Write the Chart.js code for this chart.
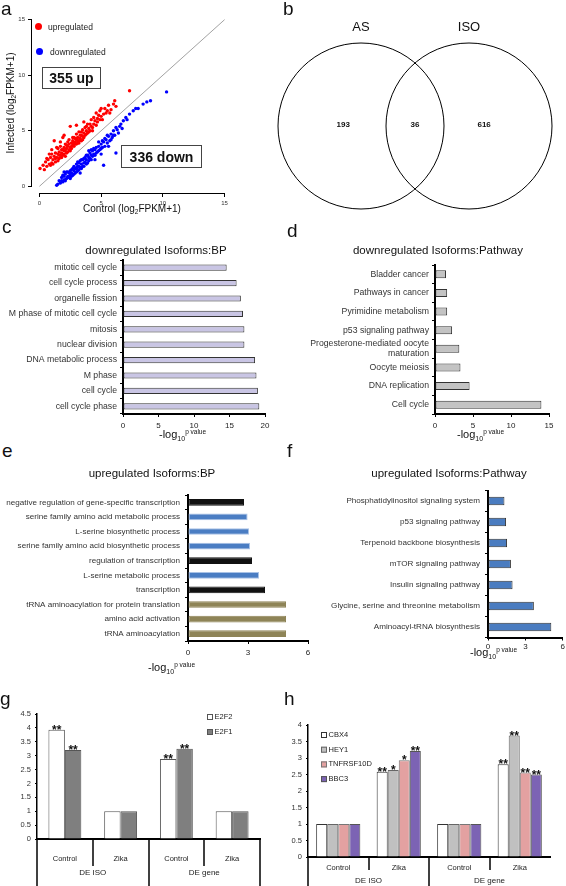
<!DOCTYPE html>
<html>
<head>
<meta charset="utf-8">
<script src="https://cdn.jsdelivr.net/npm/chart.js@4.4.0/dist/chart.umd.min.js"></script>
<style>
body { margin: 0; width: 566px; height: 886px; position: relative; overflow: hidden; background: #fff;
       font-family: "Liberation Sans", Arial, sans-serif; color: #111; }
canvas { position: absolute; }
.t { position: absolute; white-space: nowrap; line-height: 1; }
.letter { font-size: 19px; }
.ttl { font-size: 11.5px; transform: translate(-50%, -50%); }
.lg { font-size: 11px; }
.lg sub { font-size: 7px; vertical-align: -3px; }
.lg sup { font-size: 6.5px; vertical-align: 4px; }
.atl { font-size: 10px; transform: translate(-50%, -50%); }
.atl sub { font-size: 6.5px; vertical-align: -2px; }
.box { position: absolute; border: 1.5px solid #444; font-weight: bold; font-size: 14px;
       display: flex; align-items: center; justify-content: center; box-sizing: border-box; }
.dot { position: absolute; width: 7px; height: 7px; border-radius: 50%; }
.leg { font-size: 8.5px; transform: translateY(-50%); color: #222; }
</style>
</head>
<body>
<canvas id="scatter" width="280" height="222" style="left:0;top:0"></canvas>
<canvas id="venn" width="290" height="240" style="left:276px;top:0"></canvas>
<canvas id="bpDown" width="283" height="190" style="left:0;top:250px"></canvas>
<canvas id="pathDown" width="283" height="190" style="left:283px;top:250px"></canvas>
<canvas id="bpUp" width="320" height="185" style="left:0;top:480px"></canvas>
<canvas id="pathUp" width="283" height="185" style="left:283px;top:480px"></canvas>
<canvas id="gBar" width="283" height="196" style="left:0;top:690px"></canvas>
<canvas id="hBar" width="283" height="196" style="left:283px;top:690px"></canvas>

<div class="t letter" style="left:1px;top:-1px">a</div>
<div class="t letter" style="left:283px;top:-1px">b</div>
<div class="t letter" style="left:2px;top:217px">c</div>
<div class="t letter" style="left:287px;top:221px">d</div>
<div class="t letter" style="left:2px;top:441px">e</div>
<div class="t letter" style="left:287px;top:441px">f</div>
<div class="t letter" style="left:0;top:689px">g</div>
<div class="t letter" style="left:284px;top:689px">h</div>

<div class="t atl" style="left:12px;top:103px;transform:translate(-50%,-50%) rotate(-90deg)">Infected (log<sub>2</sub>FPKM+1)</div>
<div class="t atl" style="left:132px;top:210px">Control (log<sub>2</sub>FPKM+1)</div>
<div class="dot" style="left:35px;top:23px;background:#ff0000"></div>
<div class="t leg" style="left:48px;top:27px">upregulated</div>
<div class="dot" style="left:36px;top:48px;background:#0000ff"></div>
<div class="t leg" style="left:50px;top:52px">downregulated</div>
<div class="box" style="left:42px;top:67px;width:59px;height:22px">355 up</div>
<div class="box" style="left:121px;top:145px;width:81px;height:23px">336 down</div>

<div class="t ttl" style="left:156px;top:251px">downregulated Isoforms:BP</div>
<div class="t ttl" style="left:438px;top:251px">downregulated Isoforms:Pathway</div>
<div class="t ttl" style="left:152px;top:474px">upregulated Isoforms:BP</div>
<div class="t ttl" style="left:449px;top:474px">upregulated Isoforms:Pathway</div>

<div class="t lg" style="left:159px;top:429px">-log<sub>10</sub><sup>p value</sup></div>
<div class="t lg" style="left:457px;top:429px">-log<sub>10</sub><sup>p value</sup></div>
<div class="t lg" style="left:148px;top:662px">-log<sub>10</sub><sup>p value</sup></div>
<div class="t lg" style="left:470px;top:647px">-log<sub>10</sub><sup>p value</sup></div>

<script>
// panel a: log2(FPKM+1), control vs infected
const upregulated = [
  [0.05,1.6],[0.3,1.9],[0.4,1.5],[0.5,2.2],[0.6,1.8],[0.7,2.4],[0.8,2.0],[0.9,2.6],[1.0,2.1],[1.0,2.9],
  [1.1,2.4],[1.2,2.7],[1.2,4.1],[1.3,2.2],[1.3,3.0],[1.4,2.6],[1.5,2.9],[1.5,3.4],[1.6,2.5],[1.6,3.1],
  [1.7,2.8],[1.7,3.6],[1.8,3.0],[1.8,2.6],[1.9,3.3],[1.9,4.4],[2.0,2.9],[2.0,3.5],[2.1,3.2],[2.1,3.8],
  [2.2,3.0],[2.2,3.4],[2.3,3.6],[2.3,4.0],[2.4,3.3],[2.4,3.8],[2.5,3.5],[2.5,5.4],[2.6,3.9],[2.6,3.4],
  [2.7,4.1],[2.7,3.7],[2.8,3.6],[2.8,4.4],[2.9,4.0],[2.9,3.8],[3.0,4.2],[3.0,4.7],[3.1,3.9],[3.1,4.4],
  [3.2,4.1],[3.2,4.9],[3.3,4.3],[3.4,4.6],[3.4,4.1],[3.5,4.5],[3.5,5.1],[3.6,4.8],[3.7,4.6],[3.7,5.3],
  [3.8,5.0],[3.9,4.8],[3.9,5.6],[4.0,5.2],[4.1,5.0],[4.2,5.4],[4.2,6.0],[4.3,5.3],[4.4,5.6],[4.5,5.9],
  [4.6,5.5],[4.7,6.1],[4.8,6.4],[4.9,6.0],[5.0,6.3],[5.2,6.5],[5.3,7.0],[5.5,6.8],[5.6,7.3],[5.8,6.9],
  [6.0,7.4],[6.2,7.2],[7.3,8.6],[2.0,4.6],[1.4,3.5],[0.8,2.9],[3.6,5.8],[4.6,6.6],[5.0,7.0],
  [0.6,2.5],[0.9,1.9],[1.1,2.0],[1.3,2.5],[1.5,2.3],[1.6,2.8],[1.8,3.3],[1.9,2.8],[2.0,3.2],[2.1,2.7],
  [2.2,3.7],[2.3,3.1],[2.4,4.2],[2.5,3.2],[2.6,3.6],[2.7,4.4],[2.8,3.9],[2.9,4.3],[3.0,3.8],[3.1,4.1],
  [3.2,3.9],[3.3,4.6],[3.4,4.9],[3.5,4.2],[3.6,4.4],[3.8,4.7],[3.8,5.4],[4.0,4.9],[4.1,5.6],[4.3,5.0],
  [4.4,6.2],[4.7,5.8],[4.9,6.8],[5.1,6.0],[5.4,6.6],[5.7,6.6],[6.1,7.7],[1.0,3.3],[1.7,4.0],[3.0,5.5]
];
const downregulated = [
  [1.4,0.1],[1.6,0.5],[1.7,0.3],[1.8,0.8],[1.9,0.4],[2.0,0.9],[2.0,0.6],[2.1,1.1],[2.2,0.7],[2.2,1.3],
  [2.3,0.9],[2.4,1.2],[2.4,0.8],[2.5,1.4],[2.5,1.0],[2.6,1.2],[2.7,1.6],[2.7,1.0],[2.8,1.4],[2.8,1.8],
  [2.9,1.2],[3.0,1.6],[3.0,2.0],[3.1,1.4],[3.1,1.8],[3.2,2.1],[3.3,1.7],[3.3,2.3],[3.4,2.0],[3.5,1.8],
  [3.5,2.4],[3.6,2.1],[3.7,2.6],[3.7,2.2],[3.8,2.4],[3.9,2.8],[3.9,2.1],[4.0,2.6],[4.1,3.0],[4.1,2.5],
  [4.2,2.8],[4.3,3.2],[4.4,2.9],[4.5,3.3],[4.5,2.8],[4.6,3.5],[4.7,3.1],[4.8,3.6],[4.9,3.3],[5.0,3.8],
  [5.1,3.5],[5.2,1.9],[5.2,4.0],[5.3,3.6],[5.4,4.2],[5.5,3.9],[5.6,4.5],[5.7,4.1],[5.8,4.7],[5.9,4.4],
  [6.0,5.0],[6.1,4.6],[6.2,3.0],[6.3,5.1],[6.4,4.8],[6.5,5.4],[6.6,5.6],[6.8,5.9],[7.0,6.2],[7.3,6.5],
  [7.6,6.8],[8.0,7.0],[8.4,7.4],[9.0,7.7],[10.3,8.5],[3.2,1.5],[2.6,1.5],[4.0,3.2],[5.0,2.9],[5.6,3.6],
  [1.5,0.2],[1.8,0.5],[1.9,1.0],[2.1,0.5],[2.3,1.3],[2.5,0.7],[2.6,0.9],[2.8,1.1],[2.9,1.6],[3.0,1.3],
  [3.1,2.2],[3.2,1.8],[3.4,1.6],[3.4,2.4],[3.6,1.8],[3.6,2.5],[3.8,2.0],[3.8,2.8],[4.0,2.3],[4.2,2.4],
  [4.2,3.3],[4.3,2.7],[4.4,3.4],[4.6,3.0],[4.8,3.2],[4.8,4.0],[5.0,3.4],[5.1,4.1],[5.3,4.3],[5.5,4.6],
  [5.8,4.2],[6.0,4.6],[6.2,5.3],[6.7,5.2],[7.1,6.0],[2.0,1.3],[3.3,1.2],[4.5,2.4],[7.8,7.0],[8.7,7.6]
];
const aTicks = [0, 5, 10, 15];

// panel b
const vennSets = ['AS', 'ISO'];
const vennCounts = [193, 36, 616];

// panels c-f: enrichment, -log10 p
const bpDownTerms = ['mitotic cell cycle', 'cell cycle process', 'organelle fission', 'M phase of mitotic cell cycle',
  'mitosis', 'nuclear division', 'DNA metabolic process', 'M phase', 'cell cycle', 'cell cycle phase'];
const bpDownValues = [14.6, 16.0, 16.6, 16.9, 17.1, 17.1, 18.6, 18.8, 19.0, 19.2];

const pathDownTerms = ['Bladder cancer', 'Pathways in cancer', 'Pyrimidine metabolism', 'p53 signaling pathway',
  ['Progesterone-mediated oocyte', 'maturation'], 'Oocyte meiosis', 'DNA replication', 'Cell cycle'];
const pathDownValues = [1.45, 1.6, 1.6, 2.25, 3.2, 3.35, 4.55, 14.0];

const bpUpTerms = ['negative regulation of gene-specific transcription', 'serine family amino acid metabolic process',
  'L-serine biosynthetic process', 'serine family amino acid biosynthetic process', 'regulation of transcription',
  'L-serine metabolic process', 'transcription', 'tRNA aminoacylation for protein translation',
  'amino acid activation', 'tRNA aminoacylation'];
const bpUpValues = [2.8, 2.98, 3.05, 3.1, 3.2, 3.55, 3.85, 4.9, 4.9, 4.9];
const bpUpKind = ['transcription', 'serine', 'serine', 'serine', 'transcription', 'serine', 'transcription',
  'tRNA', 'tRNA', 'tRNA'];

const pathUpTerms = ['Phosphatidylinositol signaling system', 'p53 signaling pathway', 'Terpenoid backbone biosynthesis',
  'mTOR signaling pathway', 'Insulin signaling pathway', 'Glycine, serine and threonine metabolism',
  'Aminoacyl-tRNA biosynthesis'];
const pathUpValues = [1.32, 1.45, 1.53, 1.84, 1.97, 3.68, 5.08];

// panels g-h: fold change
const barCategories = ['Control', 'Zika', 'Control', 'Zika'];
const barGroups = ['DE ISO', 'DE gene'];
const e2f2 = [3.93, 1, 2.88, 1];
const e2f1 = [3.2, 1, 3.25, 1];
const e2f2Stars = ['**', '', '**', ''];
const e2f1Stars = ['**', '', '**', ''];
const cbx4 = [1, 2.58, 1, 2.81];
const hey1 = [1, 2.64, 1, 3.68];
const tnfrsf10d = [1, 2.93, 1, 2.56];
const bbc3 = [1, 3.21, 1, 2.5];
const cbx4Stars = ['', '**', '', '**'];
const hey1Stars = ['', '*', '', '**'];
const tnfrsf10dStars = ['', '*', '', '**'];
const bbc3Stars = ['', '**', '', '**'];

const FONT = '"Liberation Sans", Arial, sans-serif';
Chart.defaults.font.family = FONT;
Chart.defaults.color = '#222';
Chart.defaults.animation = false;
Chart.defaults.responsive = false;
Chart.defaults.events = [];
Chart.defaults.layout.autoPadding = false;
Chart.defaults.plugins.legend.display = false;
Chart.defaults.plugins.tooltip.enabled = false;

// ---- a: scatter ----
const rAxes = {
  id: 'rAxes',
  afterDraw(chart) {
    const { ctx, scales: { x, y }, chartArea: a } = chart;
    const lo = aTicks[0], hi = aTicks[aTicks.length - 1];
    ctx.save();
    ctx.strokeStyle = '#000';
    ctx.lineWidth = 1;
    ctx.beginPath();
    ctx.moveTo(x.getPixelForValue(lo), a.bottom + 0.5);
    ctx.lineTo(x.getPixelForValue(hi), a.bottom + 0.5);
    ctx.moveTo(a.left - 0.5, y.getPixelForValue(lo));
    ctx.lineTo(a.left - 0.5, y.getPixelForValue(hi));
    ctx.stroke();
    ctx.restore();
  }
};

new Chart(document.getElementById('scatter'), {
  type: 'scatter',
  data: {
    datasets: [
      { type: 'line', data: [{ x: 0, y: 0 }, { x: 15, y: 15 }], borderColor: '#8a8a8a', borderWidth: 0.8,
        pointRadius: 0, order: 3 },
      { data: upregulated.map(p => ({ x: p[0], y: p[1] })), pointBackgroundColor: '#ff0000',
        pointRadius: 1.7, pointBorderWidth: 0, order: 1 },
      { data: downregulated.map(p => ({ x: p[0], y: p[1] })), pointBackgroundColor: '#0000ff',
        pointRadius: 1.7, pointBorderWidth: 0, order: 2 }
    ]
  },
  options: {
    layout: { padding: { left: 0, top: 13, right: 48, bottom: 0 } },
    scales: {
      x: {
        type: 'linear', min: -0.6, max: 15.6,
        afterBuildTicks: s => { s.ticks = aTicks.map(v => ({ value: v })); },
        ticks: { font: { size: 6 }, color: '#333', padding: 3, maxRotation: 0 },
        grid: { drawOnChartArea: false, tickLength: 4, color: '#000' },
        border: { display: false },
        afterFit: s => { s.height = 29; }
      },
      y: {
        min: -0.6, max: 15.6,
        afterBuildTicks: s => { s.ticks = aTicks.map(v => ({ value: v })); },
        ticks: { font: { size: 6 }, color: '#333', padding: 3 },
        grid: { drawOnChartArea: false, tickLength: 4, color: '#000' },
        border: { display: false },
        afterFit: s => { s.width = 32; }
      }
    }
  },
  plugins: [rAxes]
});

// ---- b: venn ----
const vennText = {
  id: 'vennText',
  afterDraw(chart) {
    const { ctx, scales: { x, y } } = chart;
    ctx.save();
    ctx.fillStyle = '#111';
    ctx.textAlign = 'center';
    ctx.textBaseline = 'middle';
    ctx.font = '13px ' + FONT;
    vennSets.forEach((s, i) => ctx.fillText(s, x.getPixelForValue(i === 0 ? -1 : 1), y.getPixelForValue(1.83)));
    ctx.font = 'bold 8px ' + FONT;
    const cx = [-1.33, 0, 1.28];
    vennCounts.forEach((c, i) => ctx.fillText(String(c), x.getPixelForValue(cx[i]), y.getPixelForValue(0.02)));
    ctx.restore();
  }
};

new Chart(document.getElementById('venn'), {
  type: 'bubble',
  data: {
    datasets: [{
      data: vennSets.map((s, i) => ({ x: i === 0 ? -1 : 1, y: 0, r: 83 })),
      backgroundColor: 'rgba(0,0,0,0)', borderColor: '#000', borderWidth: 1, clip: false
    }]
  },
  options: {
    layout: { padding: { left: 9.4, right: 21.4, top: 18, bottom: 6 } },
    scales: { x: { display: false, min: -2.4, max: 2.4 }, y: { display: false, min: -2, max: 2 } }
  },
  plugins: [vennText]
});

// ---- c-f: horizontal enrichment bars ----
function hbar(id, terms, values, fill, border, xMax, xStep, area, thick) {
  new Chart(document.getElementById(id), {
    type: 'bar',
    data: {
      labels: terms,
      datasets: [{ data: values, backgroundColor: fill, borderColor: border, borderWidth: 1,
        borderSkipped: false, barPercentage: thick, categoryPercentage: 1 }]
    },
    options: {
      indexAxis: 'y',
      layout: { padding: { left: 0, top: area.top, right: area.right, bottom: 0 } },
      scales: {
        x: {
          min: 0, max: xMax,
          ticks: { stepSize: xStep, font: { size: 8 }, color: '#222', padding: area.tickPad },
          grid: { drawOnChartArea: false, tickLength: 3, color: '#000' },
          border: { color: '#000', width: 2 },
          afterFit: s => { s.height = area.xh; }
        },
        y: {
          ticks: { font: { size: area.labelSize }, color: '#333', padding: area.labelPad, autoSkip: false },
          grid: { offset: true, drawOnChartArea: false, tickLength: 3, color: '#000' },
          border: { color: '#000', width: 2 },
          afterFit: s => { s.width = area.left; }
        }
      }
    }
  });
}

hbar('bpDown', bpDownTerms, bpDownValues, '#c9c5e4', '#333', 20, 5,
  { left: 123, top: 10, right: 18, xh: 26, tickPad: 4, labelSize: 8.7, labelPad: 3 }, 0.4);
hbar('pathDown', pathDownTerms, pathDownValues, '#c3c3c3', '#333', 15, 5,
  { left: 152, top: 15, right: 17, xh: 26, tickPad: 4, labelSize: 8.7, labelPad: 3 }, 0.43);

const kindFill = { transcription: '#111111', serine: '#4a7dc3', tRNA: '#8e8457' };
const kindBorder = { transcription: '#111111', serine: '#a9c2e6', tRNA: '#8e8457' };
hbar('bpUp', bpUpTerms, bpUpValues, bpUpKind.map(k => kindFill[k]), bpUpKind.map(k => kindBorder[k]), 6, 3,
  { left: 188, top: 15, right: 12, xh: 24, tickPad: 4, labelSize: 8.1, labelPad: 5 }, 0.46);
hbar('pathUp', pathUpTerms, pathUpValues, '#4a7cc0', '#333', 6, 3,
  { left: 205, top: 10.5, right: 2, xh: 27.5, tickPad: 1, labelSize: 8.1, labelPad: 5 }, 0.4);

// ---- g-h: grouped bars ----
const stars = {
  id: 'stars',
  afterDatasetsDraw(chart) {
    const ctx = chart.ctx;
    ctx.save();
    ctx.fillStyle = '#111';
    ctx.font = 'bold 12px ' + FONT;
    ctx.textAlign = 'center';
    ctx.textBaseline = 'alphabetic';
    chart.data.datasets.forEach((ds, i) => {
      chart.getDatasetMeta(i).data.forEach((bar, j) => {
        if (ds.stars[j]) ctx.fillText(ds.stars[j], bar.x, bar.y + 4);
      });
    });
    ctx.restore();
  }
};

function boxLegend(x, y0, dy) {
  return {
    id: 'boxLegend',
    afterDraw(chart) {
      const ctx = chart.ctx;
      ctx.save();
      ctx.font = '7.5px ' + FONT;
      ctx.textBaseline = 'middle';
      chart.data.datasets.forEach((ds, i) => {
        const y = y0 + i * dy;
        ctx.fillStyle = ds.backgroundColor;
        ctx.fillRect(x, y - 3, 6, 6);
        ctx.strokeStyle = ds.borderColor;
        ctx.lineWidth = 1;
        ctx.strokeRect(x + 0.5, y - 2.5, 5, 5);
        ctx.fillStyle = '#222';
        ctx.fillText(ds.label, x + 7.5, y);
      });
      ctx.restore();
    }
  };
}

function groupAxis(shortEnd, groupY, rightLine) {
  return {
    id: 'groupAxis',
    afterDraw(chart) {
      const ctx = chart.ctx, a = chart.chartArea;
      const n = chart.data.labels.length, per = n / barGroups.length;
      const w = (a.right - a.left) / n;
      ctx.save();
      ctx.strokeStyle = '#000';
      ctx.lineWidth = 1.5;
      for (let i = 0; i <= n; i++) {
        if (i === n && !rightLine) continue;
        const px = Math.round(a.left + i * w);
        ctx.beginPath();
        ctx.moveTo(px, a.bottom);
        ctx.lineTo(px, i % per === 0 ? chart.height : shortEnd);
        ctx.stroke();
      }
      ctx.fillStyle = '#222';
      ctx.font = '8px ' + FONT;
      ctx.textAlign = 'center';
      ctx.textBaseline = 'middle';
      barGroups.forEach((g, j) => ctx.fillText(g, a.left + (j * per + per / 2) * w, groupY));
      ctx.restore();
    }
  };
}

function vbar(id, datasets, yMax, area, catPct, extra) {
  new Chart(document.getElementById(id), {
    type: 'bar',
    data: { labels: barCategories, datasets: datasets },
    options: {
      layout: { padding: { left: 0, top: area.top, right: area.right, bottom: 0 } },
      datasets: { bar: { barPercentage: 1, categoryPercentage: catPct, borderWidth: 1, borderSkipped: 'bottom' } },
      scales: {
        x: {
          ticks: { font: { size: 7.5 }, color: '#222', padding: area.catPad },
          grid: { display: false, drawTicks: false },
          border: { color: '#000', width: 2 },
          afterFit: s => { s.height = area.xh; }
        },
        y: {
          min: 0, max: yMax,
          ticks: { stepSize: 0.5, font: { size: 7.5 }, color: '#333', padding: 4, callback: v => String(v) },
          grid: { drawOnChartArea: false, tickLength: 2, color: '#000' },
          border: { color: '#000', width: 1.5 },
          afterFit: s => { s.width = area.left; }
        }
      }
    },
    plugins: [stars].concat(extra)
  });
}

vbar('gBar', [
  { label: 'E2F2', data: e2f2, stars: e2f2Stars, backgroundColor: '#ffffff', borderColor: '#555' },
  { label: 'E2F1', data: e2f1, stars: e2f1Stars, backgroundColor: '#7f7f7f', borderColor: '#555' }
], 4.5, { left: 37, top: 24, right: 23, xh: 47, catPad: 15 }, 0.59,
  [boxLegend(207, 27, 15), groupAxis(176, 183, true)]);

vbar('hBar', [
  { label: 'CBX4', data: cbx4, stars: cbx4Stars, backgroundColor: '#ffffff', borderColor: '#333' },
  { label: 'HEY1', data: hey1, stars: hey1Stars, backgroundColor: '#c0c0c0', borderColor: '#666' },
  { label: 'TNFRSF10D', data: tnfrsf10d, stars: tnfrsf10dStars, backgroundColor: '#e3a1a1', borderColor: '#777' },
  { label: 'BBC3', data: bbc3, stars: bbc3Stars, backgroundColor: '#7c63b4', borderColor: '#555' }
], 4, { left: 25, top: 35, right: 16, xh: 29, catPad: 6 }, 0.73,
  [boxLegend(38, 45, 14.7), groupAxis(180, 191, false)]);
</script>
</body>
</html>
